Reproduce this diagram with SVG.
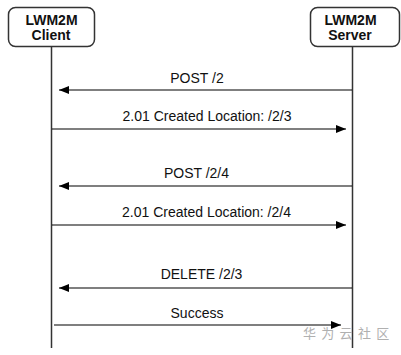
<svg xmlns="http://www.w3.org/2000/svg" width="401" height="355" viewBox="0 0 401 355">
<style>
.box{fill:#fff;stroke:#333;stroke-width:1.5}
.hdr{font-family:"Liberation Sans",Arial,sans-serif;font-weight:bold;font-size:14px;fill:#111;text-anchor:middle}
.life{stroke:#333;stroke-width:1.5;fill:none}
.msg{stroke:#000;stroke-width:1.2;fill:none}
.lbl{font-family:"Liberation Sans",Arial,sans-serif;font-size:14px;fill:#111;text-anchor:middle}
.wm{font-family:"Noto Sans CJK SC",sans-serif;font-size:13px;fill:#b0b0b0;letter-spacing:1.2px}
</style>
<defs>
<marker id="ah" viewBox="0 0 10 8" refX="10" refY="4" markerWidth="10" markerHeight="8" markerUnits="userSpaceOnUse" orient="auto">
<path d="M0,0 L10,4 L0,8 z" fill="#000"/>
</marker>
</defs>
<rect width="401" height="355" fill="#fff"/>
<g id="client">
<rect class="box" x="8.5" y="7.5" width="86" height="39" rx="7"/>
<text class="hdr" x="51.5" y="24.5">LWM2M</text>
<text class="hdr" x="51" y="40">Client</text>
</g>
<g id="server">
<rect class="box" x="310.5" y="7.5" width="89" height="39" rx="7"/>
<text class="hdr" x="350.5" y="24.5">LWM2M</text>
<text class="hdr" x="350" y="40">Server</text>
</g>
<g id="connectors">
<line class="life" x1="51.5" y1="46.5" x2="51.5" y2="348"/>
<line class="life" x1="352.5" y1="46.5" x2="352.5" y2="348"/>
<line class="msg" x1="352" y1="90" x2="59" y2="90" marker-end="url(#ah)"/>
<text class="lbl" x="197" y="83">POST /2</text>
<line class="msg" x1="52" y1="129" x2="346" y2="129" marker-end="url(#ah)"/>
<text class="lbl" x="207" y="121">2.01 Created Location: /2/3</text>
<line class="msg" x1="352" y1="186" x2="59" y2="186" marker-end="url(#ah)"/>
<text class="lbl" x="196.5" y="178">POST /2/4</text>
<line class="msg" x1="52" y1="225" x2="346" y2="225" marker-end="url(#ah)"/>
<text class="lbl" x="206.5" y="217">2.01 Created Location: /2/4</text>
<line class="msg" x1="352" y1="288" x2="59" y2="288" marker-end="url(#ah)"/>
<text class="lbl" x="201.5" y="279">DELETE /2/3</text>
<line class="msg" x1="54" y1="325" x2="341" y2="325" marker-end="url(#ah)"/>
<text class="lbl" x="197" y="318">Success</text>
</g>
<text class="wm" x="303" y="338">华 为 云 社 区</text>
</svg>
